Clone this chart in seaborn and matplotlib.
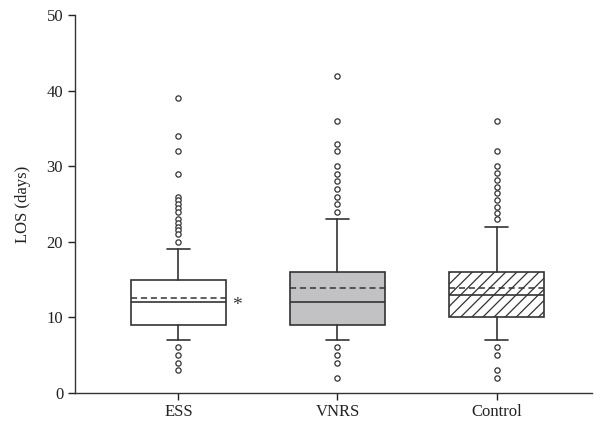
import matplotlib.pyplot as plt
import seaborn as sns

# Values (LOS in days)
groups = ['ESS', 'VNRS', 'Control']
q1 = [9, 9, 10]
medians = [12, 12, 13]
q3 = [15, 16, 16]
means = [12.5, 13.9, 13.9]
whisker_low = [7, 7, 7]
whisker_high = [19, 23, 22]
fliers_ess = [39, 34, 32, 29, 26, 25.5, 25, 24.5, 24, 23, 22.5, 22, 21.5, 21, 20, 6, 5, 4, 3]
fliers_vnrs = [42, 36, 33, 32, 30, 29, 28, 27, 26, 25, 24, 6, 5, 4, 2]
fliers_control = [36, 32, 30, 29.1, 28.2, 27.3, 26.4, 25.5, 24.6, 23.8, 23, 6, 5, 3, 2]
fliers = [fliers_ess, fliers_vnrs, fliers_control]

face_colors = ['white', '#c2c2c4', 'white']
hatches = ['', '', '///']

sns.set_style('ticks')
plt.rcParams['font.family'] = ['Liberation Serif', 'DejaVu Serif']
plt.rcParams['hatch.linewidth'] = 0.9
plt.rcParams['hatch.color'] = '#333333'

# Build the box statistics for matplotlib's bxp
stats = []
for i, name in enumerate(groups):
    stats.append({
        'label': name,
        'q1': q1[i], 'med': medians[i], 'q3': q3[i], 'mean': means[i],
        'whislo': whisker_low[i], 'whishi': whisker_high[i],
        'fliers': fliers[i],
    })

line_color = '#333333'
fig = plt.figure(figsize=(5.95, 4.28), dpi=100)
ax = fig.add_axes([0.126, 0.0825, 0.869, 0.8815])

bp = ax.bxp(stats, positions=[0, 1, 2], widths=0.6, capwidths=0.145,
            patch_artist=True, showmeans=True, meanline=True,
            boxprops=dict(edgecolor=line_color, linewidth=1.2),
            medianprops=dict(color=line_color, linewidth=1.2),
            meanprops=dict(color=line_color, linestyle=(0, (4, 2.5)), linewidth=1.1),
            whiskerprops=dict(color=line_color, linewidth=1.2),
            capprops=dict(color=line_color, linewidth=1.2),
            flierprops=dict(marker='o', markersize=3.8, markerfacecolor='white',
                            markeredgecolor=line_color, markeredgewidth=0.9,
                            linestyle='none'))

for patch, fc, h in zip(bp['boxes'], face_colors, hatches):
    patch.set_facecolor(fc)
    patch.set_hatch(h)

# significance mark next to ESS box
ax.text(0.37, 11.6, '*', ha='center', va='center', fontsize=14, color=line_color)

ax.set_xlim(-0.65, 2.6)
ax.set_ylim(0, 50)
ax.set_yticks([0, 10, 20, 30, 40, 50])
ax.set_xticks([0, 1, 2])
ax.set_xticklabels(groups)
ax.set_ylabel('LOS (days)', fontsize=12, color='#222222', labelpad=11)
ax.tick_params(axis='both', labelsize=12, colors='#222222', length=5, width=1)
for s in ['left', 'bottom']:
    ax.spines[s].set_color('#333333')
    ax.spines[s].set_linewidth(1.0)
sns.despine(ax=ax)

fig.savefig('out.png', dpi=100)
